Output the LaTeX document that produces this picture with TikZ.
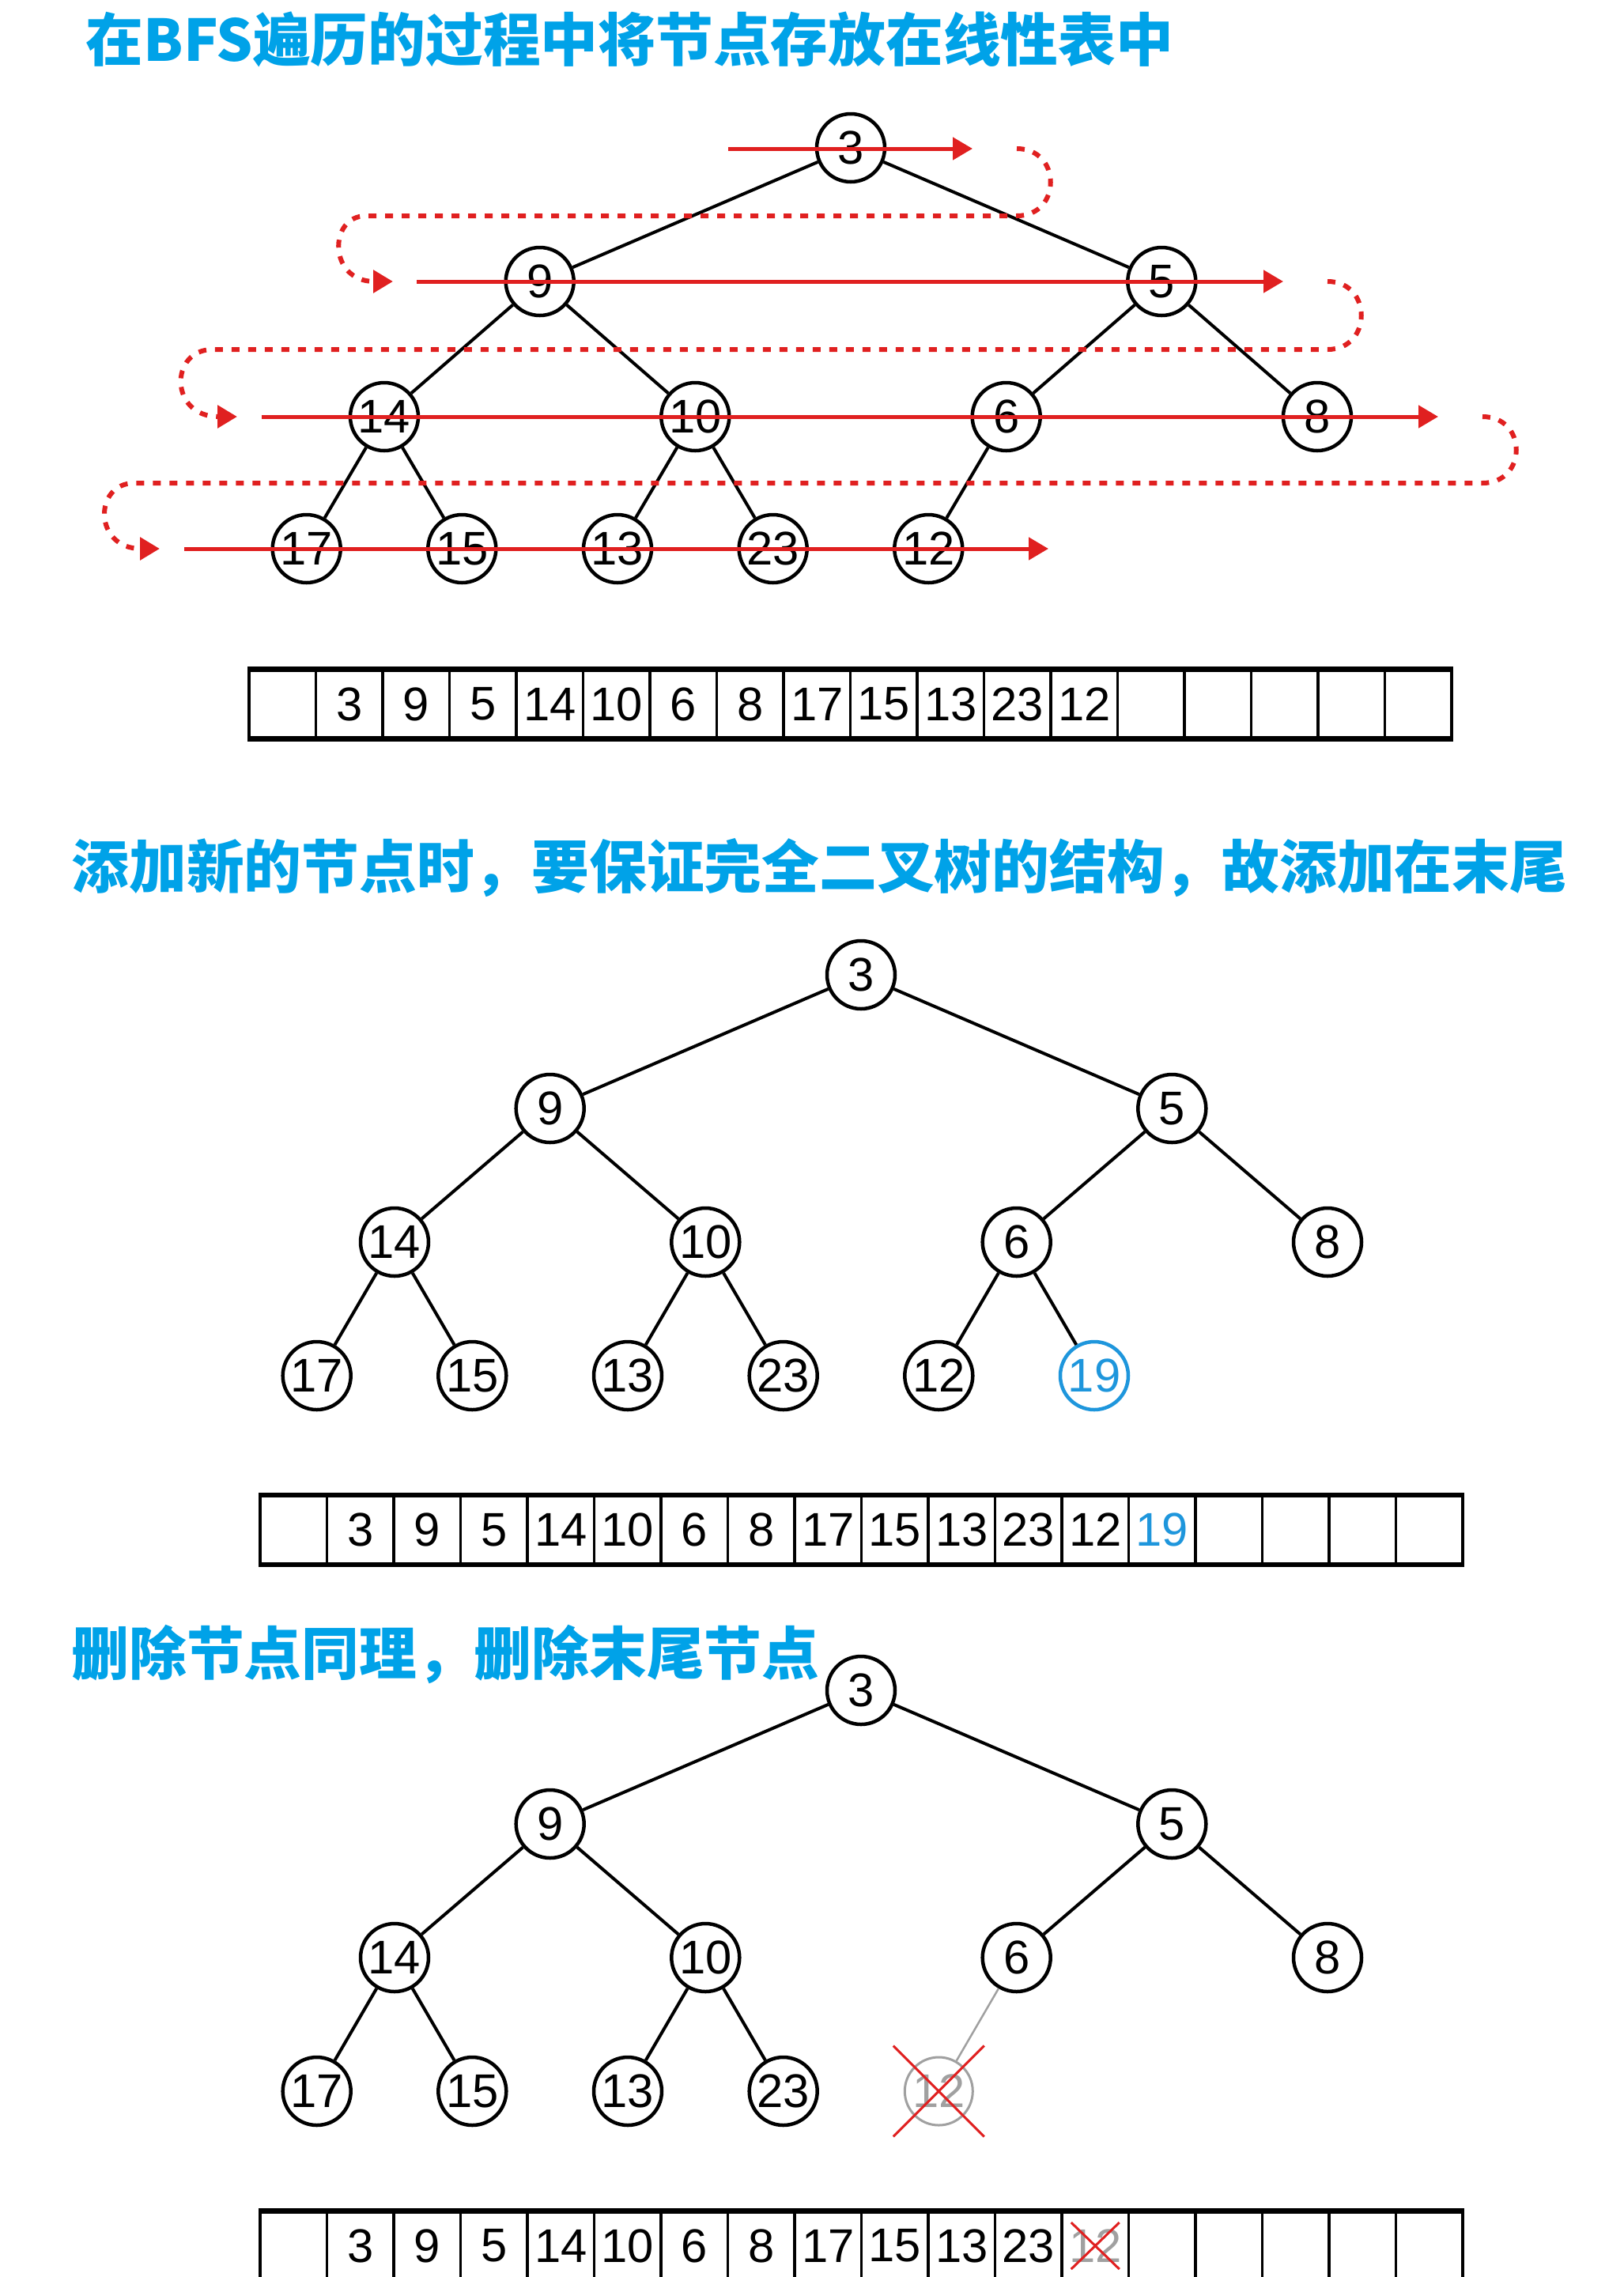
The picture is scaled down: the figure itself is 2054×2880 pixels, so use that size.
\documentclass[tikz,border=0pt]{standalone}
\usepackage{fontspec}
\setmainfont{Liberation Sans}
\newfontfamily\cjk{Noto Sans CJK SC}
\usetikzlibrary{arrows.meta,shapes.misc}
\definecolor{titleBlue}{RGB}{0,162,232}
\definecolor{newBlue}{RGB}{30,150,220}
\definecolor{bfsRed}{RGB}{224,32,32}
\definecolor{goneGray}{RGB}{160,160,160}
\tikzset{
  vertex/.style={draw, circle, minimum size=8.6mm, inner sep=0pt, line width=0.45mm, font=\fontsize{17}{17}\selectfont},
  treeline/.style={line width=0.4mm},
  cell/.style={draw, rectangle, minimum width=8.45mm, minimum height=8.5mm, inner sep=0pt, line width=0.35mm, font=\fontsize{17}{17}\selectfont},
  heading/.style={anchor=west, inner sep=0pt, text=titleBlue, font=\cjk\bfseries\fontsize{20.7}{21}\selectfont},
  bfsline/.style={bfsRed, line width=0.5mm, -{Triangle[length=2.5mm,width=2.8mm]}},
  bfsturn/.style={bfsRed, line width=0.6mm, dash pattern=on 1mm off 1.1mm, -{Triangle[length=2.5mm,width=2.8mm]}},
  crossmark/.style={draw=bfsRed, cross out, line width=0.3mm, inner sep=0pt}
}

\begin{document}
\begin{tikzpicture}[x=0.1mm, y=-0.1mm]
	\useasboundingbox (0,0) rectangle (2054,2880);
	\clip (0,0) rectangle (2054,2880);
	\fill[white] (0,0) rectangle (2054,2880);

	% --- part 1: BFS order ---
	\node[heading] (h1) at (108,50) {在BFS遍历的过程中将节点存放在线性表中};

	\begin{scope}[shift={(1076,187)}]
		\draw (0,0) node[vertex] (A3) {3};
		\draw (-393.3,169) node[vertex] (A9) {9};
		\draw (393.3,169) node[vertex] (A5) {5};
		\draw (-590,340) node[vertex] (A14) {14};
		\draw (-196.7,340) node[vertex] (A10) {10};
		\draw (196.7,340) node[vertex] (A6) {6};
		\draw (590,340) node[vertex] (A8) {8};
		\draw (-688.3,507) node[vertex] (A17) {17};
		\draw (-491.7,507) node[vertex] (A15) {15};
		\draw (-295,507) node[vertex] (A13) {13};
		\draw (-98.3,507) node[vertex] (A23) {23};
		\draw (98.3,507) node[vertex] (A12) {12};
	\end{scope}
	\path[treeline]
	(A3) edge (A9) (A3) edge (A5)
	(A9) edge (A14) (A9) edge (A10)
	(A5) edge (A6) (A5) edge (A8)
	(A14) edge (A17) (A14) edge (A15)
	(A10) edge (A13) (A10) edge (A23)
	(A6) edge (A12)
	;

	% red walk over the levels
	\coordinate (r1s) at (921,188);  \coordinate (r1e) at (1230,188);
	\coordinate (r2s) at (527,356);  \coordinate (r2e) at (1623,356);
	\coordinate (r3s) at (331,527);  \coordinate (r3e) at (1819,527);
	\coordinate (r4s) at (233,694);  \coordinate (r4e) at (1326,694);
	\draw[bfsline] (r1s) -- (r1e);
	\draw[bfsline] (r2s) -- (r2e);
	\draw[bfsline] (r3s) -- (r3e);
	\draw[bfsline] (r4s) -- (r4e);
	\draw[bfsturn] (1286,188) .. controls (1343,188) and (1343,273) .. (1286,273)
		-- (463,273) .. controls (415,273) and (415,356) .. (497,356);
	\draw[bfsturn] (1679,356) .. controls (1736,356) and (1736,442) .. (1679,442)
		-- (269,442) .. controls (214,442) and (214,527) .. (300,527);
	\draw[bfsturn] (1875,527) .. controls (1932,527) and (1932,611) .. (1875,611)
		-- (170,611) .. controls (118,611) and (118,694) .. (202,694);

	\foreach \v [count=\i from 0] in {{},3,9,5,14,10,6,8,17,15,13,23,12,{},{},{},{},{}}
		\node[cell] (P\i) at (357.25+84.5*\i,890.5) {\v};
	\draw[line width=0.6mm] (P0.north west) -- (P17.north east);
	\draw[line width=0.6mm] (P0.south west) -- (P17.south east);

	% --- part 2: insert at the end ---
	\node[heading] (h2) at (90,1098) {添加新的节点时，要保证完全二叉树的结构，故添加在末尾};

	\begin{scope}[shift={(1089,1233)}]
		\draw (0,0) node[vertex] (B3) {3};
		\draw (-393.3,169) node[vertex] (B9) {9};
		\draw (393.3,169) node[vertex] (B5) {5};
		\draw (-590,338) node[vertex] (B14) {14};
		\draw (-196.7,338) node[vertex] (B10) {10};
		\draw (196.7,338) node[vertex] (B6) {6};
		\draw (590,338) node[vertex] (B8) {8};
		\draw (-688.3,507) node[vertex] (B17) {17};
		\draw (-491.7,507) node[vertex] (B15) {15};
		\draw (-295,507) node[vertex] (B13) {13};
		\draw (-98.3,507) node[vertex] (B23) {23};
		\draw (98.3,507) node[vertex] (B12) {12};
		\draw (295,507) node[vertex, draw=newBlue, text=newBlue] (B19) {19};
	\end{scope}
	\path[treeline]
	(B3) edge (B9) (B3) edge (B5)
	(B9) edge (B14) (B9) edge (B10)
	(B5) edge (B6) (B5) edge (B8)
	(B14) edge (B17) (B14) edge (B15)
	(B10) edge (B13) (B10) edge (B23)
	(B6) edge (B12) (B6) edge (B19)
	;

	\foreach \v [count=\i from 0] in {{},3,9,5,14,10,6,8,17,15,13,23,12,{\color{newBlue}19},{},{},{},{}}
		\node[cell] (Q\i) at (371.25+84.5*\i,1935) {\v};
	\draw[line width=0.6mm] (Q0.north west) -- (Q17.north east);
	\draw[line width=0.6mm] (Q0.south west) -- (Q17.south east);

	% --- part 3: remove the last one ---
	\node[heading] (h3) at (90,2092) {删除节点同理，删除末尾节点};

	\begin{scope}[shift={(1089,2138)}]
		\draw (0,0) node[vertex] (C3) {3};
		\draw (-393.3,169) node[vertex] (C9) {9};
		\draw (393.3,169) node[vertex] (C5) {5};
		\draw (-590,338) node[vertex] (C14) {14};
		\draw (-196.7,338) node[vertex] (C10) {10};
		\draw (196.7,338) node[vertex] (C6) {6};
		\draw (590,338) node[vertex] (C8) {8};
		\draw (-688.3,507) node[vertex] (C17) {17};
		\draw (-491.7,507) node[vertex] (C15) {15};
		\draw (-295,507) node[vertex] (C13) {13};
		\draw (-98.3,507) node[vertex] (C23) {23};
		\draw (98.3,507) node[vertex, draw=goneGray, text=goneGray, line width=0.3mm] (C12) {12};
	\end{scope}
	\path[treeline]
	(C3) edge (C9) (C3) edge (C5)
	(C9) edge (C14) (C9) edge (C10)
	(C5) edge (C6) (C5) edge (C8)
	(C14) edge (C17) (C14) edge (C15)
	(C10) edge (C13) (C10) edge (C23)
	(C6) edge[goneGray, line width=0.25mm] (C12)
	;
	\node[crossmark, minimum width=11.2mm, minimum height=11.2mm] (C12x) at (C12) {};

	\foreach \v [count=\i from 0] in {{},3,9,5,14,10,6,8,17,15,13,23,{\color{goneGray}12},{},{},{},{},{}}
		\node[cell] (R\i) at (371.25+84.5*\i,2840.5) {\v};
	\draw[line width=0.6mm] (R0.north west) -- (R17.north east);
	\draw[line width=0.6mm] (R0.south west) -- (R17.south east);
	\node[crossmark, minimum width=5.8mm, minimum height=5.6mm] (R12x) at (R12) {};
\end{tikzpicture}
\end{document}
